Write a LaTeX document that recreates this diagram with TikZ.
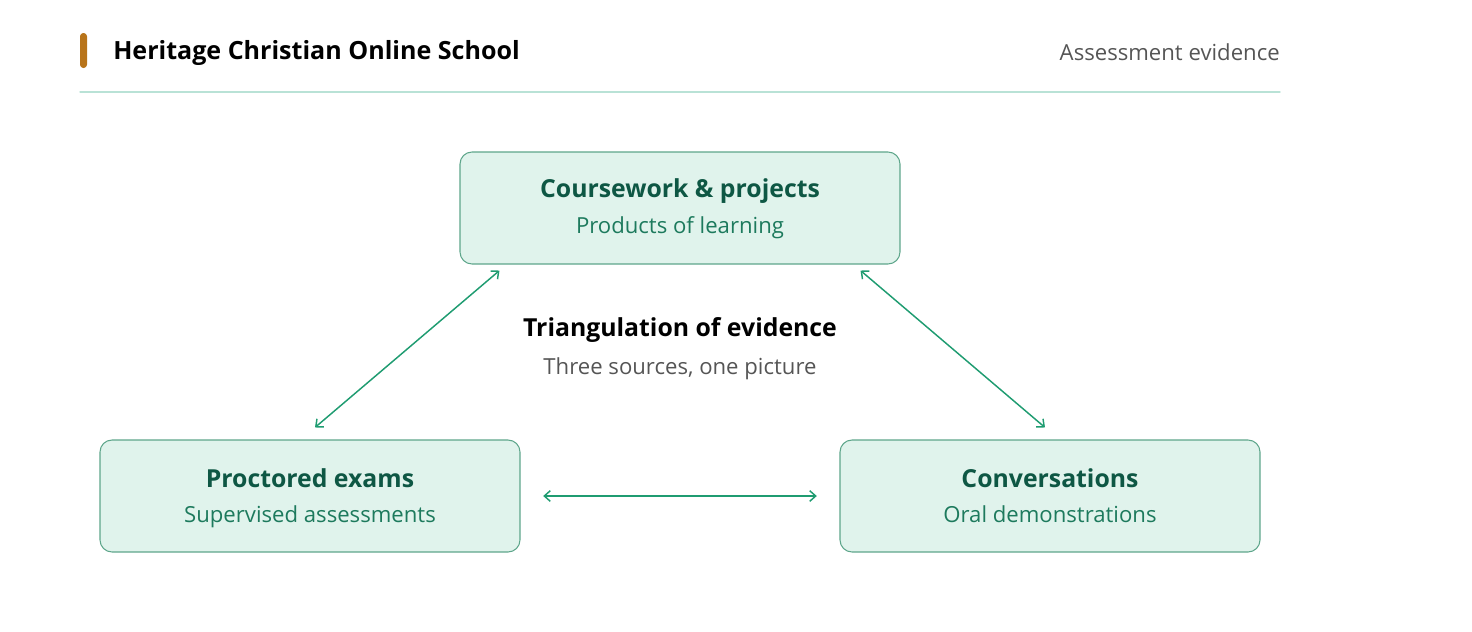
\documentclass[tikz,border=0pt]{standalone}
\usepackage{fontspec}
\setmainfont{Open Sans}
\usepackage{tikz}
\usetikzlibrary{arrows.meta, calc, positioning}

\definecolor{accentOrange}{HTML}{B8741A}
\definecolor{ruleTeal}{HTML}{B9E2D6}
\definecolor{boxFill}{HTML}{E0F3EC}
\definecolor{boxEdge}{HTML}{5EA68B}
\definecolor{titleGreen}{HTML}{0E5744}
\definecolor{subGreen}{HTML}{1D7A5D}
\definecolor{linkGreen}{HTML}{1F9C71}
\definecolor{mutedGray}{HTML}{555555}

\tikzset{
  sourcebox/.style={draw=boxEdge, fill=boxFill, line width=0.8pt, rounded corners=9pt,
    minimum width=315pt, minimum height=84pt, inner sep=0pt, align=center},
  boxtitle/.style={anchor=base, inner sep=0pt, font=\fontsize{18.6pt}{22pt}\selectfont\bfseries, text=titleGreen},
  boxsub/.style={anchor=base, inner sep=0pt, font=\fontsize{16.6pt}{20pt}\selectfont, text=subGreen},
  link/.style={<->, draw=linkGreen, line width=1.1pt}
}

\begin{document}
\begin{tikzpicture}[x=0.75pt, y=-0.75pt, line cap=round, line join=round,
    >={Straight Barb[length=4.5pt, width=8pt]}]

  \useasboundingbox (0,0) rectangle (1472,632);

  % Header
  \fill[accentOrange, rounded corners=2.5pt] (80,33) rectangle (87,68);
  \node[anchor=base west, inner sep=0pt, font=\fontsize{18.8pt}{22pt}\selectfont\bfseries] (school) at (113,59)
    {Heritage Christian Online School};
  \node[anchor=base east, inner sep=0pt, text=mutedGray, font=\fontsize{16.6pt}{20pt}\selectfont] (tag) at (1280,60)
    {Assessment evidence};
  \draw[ruleTeal, line width=1pt] (80,92) -- (1280,92);

  % The three sources
  \node[sourcebox, minimum width=330pt] (cw) at (680,208) {};
  \node[boxtitle] at (680,197) {Coursework \& projects};
  \node[boxsub] at (680,233) {Products of learning};

  \node[sourcebox] (pe) at (310,496) {};
  \node[boxtitle] at (310,487) {Proctored exams};
  \node[boxsub] at (310,522) {Supervised assessments};

  \node[sourcebox] (cv) at (1050,496) {};
  \node[boxtitle] at (1050,487) {Conversations};
  \node[boxsub] at (1050,522) {Oral demonstrations};

  % Centre caption
  \node[anchor=base, inner sep=0pt, font=\fontsize{18.6pt}{22pt}\selectfont\bfseries] (tri) at (680,336) {Triangulation of evidence};
  \node[anchor=base, inner sep=0pt, font=\fontsize{16.6pt}{20pt}\selectfont, text=mutedGray] (tri sub) at (680,374) {Three sources, one picture};

  % Links between sources
  \draw[link] ([shift={(40,6)}]cw.south west) -- ([shift={(5,-12)}]pe.north);
  \draw[link] ([shift={(-40,6)}]cw.south east) -- ([shift={(-5,-12)}]cv.north);
  \draw[link, shorten <=17pt, shorten >=17pt] (pe.east) -- (cv.west);

\end{tikzpicture}
\end{document}
